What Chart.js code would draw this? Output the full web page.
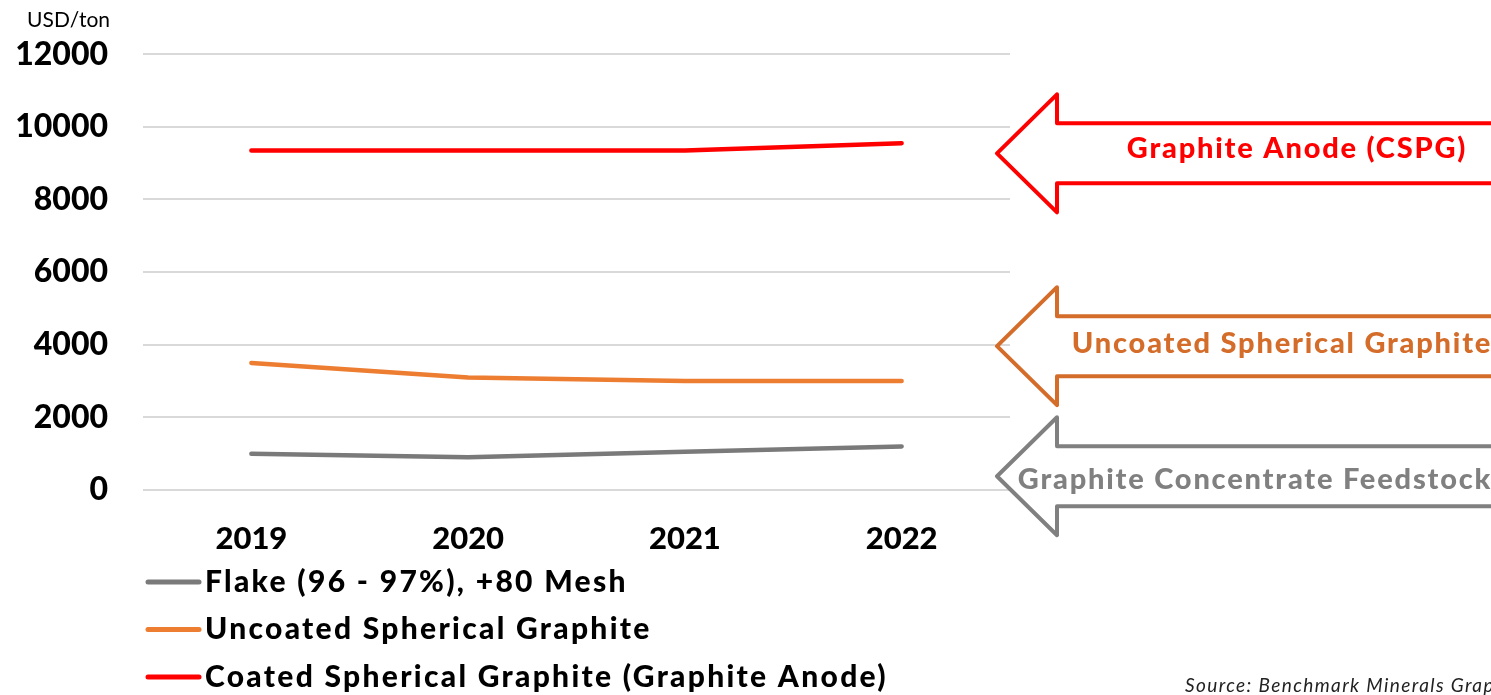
<!DOCTYPE html>
<html>
<head>
<meta charset="utf-8">
<script src="https://cdn.jsdelivr.net/npm/chart.js@4.4.1/dist/chart.umd.min.js"></script>
<style>
  html, body { margin: 0; padding: 0; background: #fff; }
  #wrap { width: 1491px; height: 695px; position: relative; }
</style>
</head>
<body>
<div id="wrap"><canvas id="chart" width="1491" height="695"></canvas></div>
<script>
// data
const years = ['2019', '2020', '2021', '2022'];
const flake = [1000, 900, 1050, 1200];
const uncoated = [3500, 3100, 3000, 3000];
const coated = [9350, 9350, 9350, 9550];
const yTicks = [0, 2000, 4000, 6000, 8000, 10000, 12000];

const seriesNames = [
  'Flake (96 - 97%), +80 Mesh',
  'Uncoated Spherical Graphite',
  'Coated Spherical Graphite (Graphite Anode)'
];

// arrow call-outs on the right, pointing at a price level
const arrowLabels = ['Graphite Anode (CSPG)', 'Uncoated Spherical Graphite', 'Graphite Concentrate Feedstock'];
const arrowLevels = [9270, 3960, 380];
const arrowColors = ['#ff0000', '#d46c2a', '#808080'];

const FONT = 'Lato, "Open Sans", sans-serif';

// draws the arrows, unit label, legend and source line
const extras = {
  id: 'extras',
  afterDraw(chart, args, opts) {
    const ctx = chart.ctx;
    const y = chart.scales.y;
    const area = chart.chartArea;
    ctx.save();

    // unit
    ctx.fillStyle = '#000';
    ctx.font = '21px ' + FONT;
    ctx.textAlign = 'right';
    ctx.textBaseline = 'middle';
    ctx.fillText('USD/ton', 110, 20);

    // arrows
    const tipX = area.right - 13;
    const headX = tipX + 60;
    const endX = chart.width + 10;
    arrowLevels.forEach((lvl, i) => {
      const cy = y.getPixelForValue(lvl);
      ctx.beginPath();
      ctx.moveTo(endX, cy - 30);
      ctx.lineTo(headX, cy - 30);
      ctx.lineTo(headX, cy - 59);
      ctx.lineTo(tipX, cy);
      ctx.lineTo(headX, cy + 59);
      ctx.lineTo(headX, cy + 30);
      ctx.lineTo(endX, cy + 30);
      ctx.strokeStyle = arrowColors[i];
      ctx.lineWidth = 4;
      ctx.lineJoin = 'round';
      ctx.stroke();

      ctx.fillStyle = arrowColors[i];
      ctx.font = '900 29px ' + FONT;
      ctx.letterSpacing = '1.8px';
      ctx.textAlign = 'center';
      ctx.textBaseline = 'middle';
      ctx.fillText(arrowLabels[i], opts.labelX[i], cy - opts.labelShift[i]);
    });

    // legend, one item per row
    ctx.letterSpacing = '2.3px';
    chart.data.datasets.forEach((ds, i) => {
      const ly = 582 + i * 47.5;
      ctx.beginPath();
      ctx.moveTo(148, ly);
      ctx.lineTo(199, ly);
      ctx.strokeStyle = ds.borderColor;
      ctx.lineWidth = 5;
      ctx.lineCap = 'round';
      ctx.stroke();
      ctx.fillStyle = '#000';
      ctx.font = '900 30px ' + FONT;
      ctx.textAlign = 'left';
      ctx.textBaseline = 'middle';
      ctx.fillText(ds.label, 205, ly);
    });

    // source
    ctx.letterSpacing = '1.4px';
    ctx.fillStyle = '#222';
    ctx.font = 'italic 19px ' + FONT;
    ctx.textAlign = 'left';
    ctx.textBaseline = 'alphabetic';
    ctx.fillText('Source: Benchmark Minerals Graphite', 1185, 692);

    ctx.restore();
  }
};

new Chart(document.getElementById('chart'), {
  type: 'line',
  data: {
    labels: years,
    datasets: [
      { label: seriesNames[0], data: flake, borderColor: '#7a7a7a' },
      { label: seriesNames[1], data: uncoated, borderColor: '#ed7d31' },
      { label: seriesNames[2], data: coated, borderColor: '#ff0000' }
    ]
  },
  options: {
    responsive: false,
    animation: false,
    layout: { padding: { left: 0, right: 481, top: 54, bottom: 125 } },
    elements: {
      line: { borderWidth: 4.5, tension: 0, borderCapStyle: 'round', borderJoinStyle: 'round' },
      point: { radius: 0, hoverRadius: 0 }
    },
    plugins: {
      legend: { display: false },
      tooltip: { enabled: false },
      extras: { labelX: [1297, 1282, 1255], labelShift: [5, 3, -3] }
    },
    scales: {
      x: {
        offset: true,
        grid: { display: false, drawTicks: false },
        border: { display: false },
        ticks: { color: '#000', font: { family: FONT, size: 31, weight: '900' }, padding: 30, maxRotation: 0 },
        afterFit(scale) { scale.height = 80; }
      },
      y: {
        min: 0,
        max: 12000,
        afterBuildTicks(scale) { scale.ticks = yTicks.map(v => ({ value: v })); },
        grid: { color: '#d9d9d9', lineWidth: 2, drawTicks: false },
        border: { display: false },
        ticks: {
          color: '#000',
          font: { family: FONT, size: 32, weight: '900' },
          padding: 35,
          callback: v => String(v)
        },
        afterFit(scale) { scale.width = 143; }
      }
    }
  },
  plugins: [extras]
});
</script>
</body>
</html>
